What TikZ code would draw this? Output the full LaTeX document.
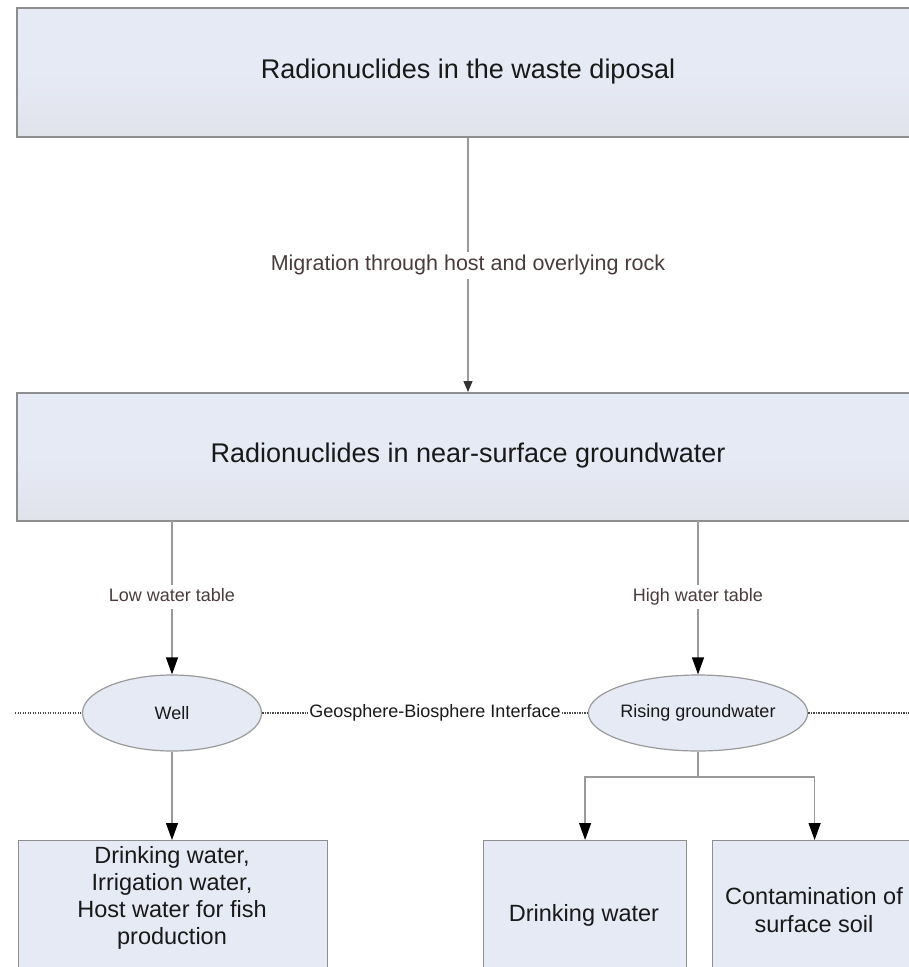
\documentclass[tikz,border=0pt]{standalone}
\usepackage{fontspec}
\setmainfont{Liberation Sans}
\usetikzlibrary{arrows.meta,shapes.geometric}
\definecolor{boxfill}{HTML}{E6EAF5}
\definecolor{boxlow}{HTML}{E1E3EB}
\definecolor{boxedge}{HTML}{8E8E8E}
\definecolor{linegray}{HTML}{9A9A9A}
\definecolor{labtext}{HTML}{4A3C3C}
\definecolor{dotc}{HTML}{4A4A4A}
\tikzset{
  x=1pt, y=-1pt,
  bigbox/.style={draw=boxedge, line width=2pt, top color=boxfill, bottom color=boxlow, middle color=boxfill,
    rectangle, inner sep=0pt},
  boxtext/.style={font=\fontsize{27}{32}\selectfont, text=black!90},
  lowbox/.style={draw=boxedge, line width=1.2pt, fill=boxfill, rectangle, inner sep=0pt},
  lowtext/.style={align=center, font=\fontsize{23.5}{27.2}\selectfont, text=black!90},
  ell/.style={ellipse, draw=linegray, line width=1.2pt, fill=boxfill, minimum height=76pt,
    inner sep=0pt, font=\fontsize{18}{21}\selectfont, text=black!90},
  conn/.style={draw=linegray, line width=1.3pt},
  tip/.style={-{Triangle[length=17pt,width=12pt,color=black]}},
  smalltip/.style={-{Triangle[length=11pt,width=9pt,color=black!80]}},
  biglab/.style={fill=white, inner sep=3pt, text=labtext, font=\fontsize{21.5}{25}\selectfont,
    text height=16pt, text depth=5pt},
  smalllab/.style={fill=white, inner sep=3pt, text=labtext, font=\fontsize{18}{21}\selectfont,
    text height=13.5pt, text depth=4pt},
  dotline/.style={draw=dotc, line width=2.2pt, dash pattern=on 1.4pt off 1.1pt},
}
\begin{document}
\begin{tikzpicture}
\useasboundingbox (0,0) rectangle (909,967);
\clip (0,0) rectangle (909,967);
\fill[white] (0,0) rectangle (909,967);

% top boxes
\node[bigbox, minimum width=904pt, minimum height=129pt, anchor=north west] (waste) at (16,7) {};
\node[boxtext] (wastetxt) at (468,72) {Radionuclides in the waste diposal};
\node[bigbox, minimum width=904pt, minimum height=128pt, anchor=north west] (gw) at (16,392) {};
\node[boxtext] (gwtxt) at (468,456) {Radionuclides in near-surface groundwater};

% ellipses
\node[ell, minimum width=179pt] (well) at (172,713) {Well};
\node[ell, minimum width=186pt] (rise) at (698,713) {Rising groundwater};

% bottom boxes
\node[lowbox, minimum width=309pt, minimum height=140pt, anchor=north west] (b1) at (18,840) {};
\node[lowbox, minimum width=203pt, minimum height=140pt, anchor=north west] (b2) at (483,840) {};
\node[lowbox, minimum width=204pt, minimum height=140pt, anchor=north west] (b3) at (712,840) {};
\node[lowtext] (b1t) at (172,898) {Drinking water,\\Irrigation water,\\Host water for fish\\production};
\node[lowtext] (b2t) at (584,915) {Drinking water};
\node[lowtext] (b3t) at (814,910) {Contamination of\\surface soil};

% main arrow
\draw[conn, smalltip] (waste.south -| wastetxt) -- (gw.north -| wastetxt);
\node[biglab] (mig) at (468,265) {Migration through host and overlying rock};

% water table arrows
\coordinate (lw) at (172,520);
\coordinate (hw) at (698,520);
\draw[conn, tip] (lw) -- (well.north);
\draw[conn, tip] (hw) -- (rise.north);
\node[smalllab] (lwt) at (172,597) {Low water table};
\node[smalllab] (hwt) at (698,597) {High water table};

% interface
\node[fill=white, inner sep=1pt, font=\fontsize{18}{21}\selectfont, text=black!90] (iface) at (435,713) {Geosphere-Biosphere Interface};
\coordinate (dl) at (15,713);
\coordinate (dr) at (909,713);
\draw[dotline] (dl) -- (well.west);
\draw[dotline] (well.east) -- (iface.west);
\draw[dotline] (iface.east) -- (rise.west);
\draw[dotline] (rise.east) -- (dr);

% downward
\draw[conn, tip] (well.south) -- (b1.north -| well.south);
\coordinate (split) at (698,777);
\draw[conn] (rise.south) -- (split);
\draw[conn, tip] (split) -| (b2.north);
\draw[conn, tip] (split) -| (b3.north);
\end{tikzpicture}
\end{document}
